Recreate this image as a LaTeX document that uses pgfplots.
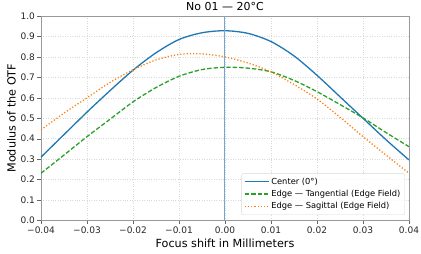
\documentclass[border=0pt]{standalone}
\usepackage{fontspec}
\setmainfont{DejaVu Sans}
\usepackage{pgfplots}
\pgfplotsset{compat=1.18}
\definecolor{c0}{HTML}{1F77B4}
\definecolor{c1}{HTML}{FF7F0E}
\definecolor{c2}{HTML}{2CA02C}
\definecolor{vline}{HTML}{6FA8D6}
\pgfplotsset{legend image code/.code={\draw[#1] (0pt,0pt) -- (24pt,0pt);}}
\begin{document}
\begin{tikzpicture}[x=1pt,y=1pt]
\path[use as bounding box] (0,0) rectangle (421,254);
\begin{axis}[
  at={(41pt,33.5pt)}, anchor=south west,
  scale only axis, width=368pt, height=204.5pt,
  xmin=-0.04, xmax=0.04, ymin=0, ymax=1,
  xtick={-0.04,-0.03,-0.02,-0.01,0,0.01,0.02,0.03,0.04},
  xticklabels={−0.04,−0.03,−0.02,−0.01,0.00,0.01,0.02,0.03,0.04},
  ytick={0,0.1,...,1.0},
  /pgf/number format/assume math mode=true,
  yticklabel style={/pgf/number format/fixed,/pgf/number format/fixed zerofill,/pgf/number format/precision=1, xshift=1pt},
  xticklabel style={yshift=1pt},
  scaled x ticks=false,
  tick label style={font=\fontsize{9}{10}\selectfont, text=black!85},
  xlabel={Focus shift in Millimeters},
  ylabel={Modulus of the OTF},
  label style={font=\fontsize{11.2}{13}\selectfont},
  xlabel style={yshift=1pt},
  ylabel style={yshift=-2pt},
  title={No 01 — 20°C},
  title style={font=\fontsize{11}{13}\selectfont, yshift=-4pt},
  grid=major,
  major grid style={dotted, gray!30},
  axis line style={gray!80},
  tick style={gray!80!black},
  tick align=outside, major tick length=3.5pt,
  xtick pos=bottom, ytick pos=left,
  legend style={at={(0.989,0.027)}, anchor=south east, font=\fontsize{8.3}{10}\selectfont,
    draw=gray!30, rounded corners=2pt, fill=white, fill opacity=0.8, text opacity=1,
    row sep=0.5pt, inner sep=2.5pt},
  legend cell align=left,
]
\addplot[draw=c0, line width=1.3pt, smooth] coordinates {
(-0.04,0.31) (-0.035,0.42) (-0.03,0.53) (-0.025,0.635) (-0.02,0.735) (-0.015,0.82)
(-0.01,0.885) (-0.005,0.918) (0,0.928) (0.005,0.915) (0.01,0.875) (0.015,0.805)
(0.02,0.71) (0.025,0.605) (0.03,0.50) (0.035,0.395) (0.04,0.296)};
\addlegendentry{Center (0°)}
\addplot[draw=c2, line width=1.3pt, dash pattern=on 4.4pt off 2pt, smooth] coordinates {
(-0.04,0.231) (-0.035,0.32) (-0.03,0.41) (-0.025,0.495) (-0.02,0.58) (-0.015,0.65)
(-0.01,0.705) (-0.005,0.738) (0,0.749) (0.005,0.745) (0.01,0.727) (0.015,0.685)
(0.02,0.63) (0.025,0.567) (0.03,0.502) (0.035,0.43) (0.04,0.361)};
\addlegendentry{Edge — Tangential (Edge Field)}
\addplot[draw=c1, line width=1.3pt, dash pattern=on 1.2pt off 2pt, smooth] coordinates {
(-0.04,0.443) (-0.035,0.525) (-0.03,0.60) (-0.025,0.675) (-0.02,0.737) (-0.015,0.785)
(-0.01,0.812) (-0.005,0.815) (0,0.80) (0.005,0.77) (0.01,0.727) (0.015,0.665)
(0.02,0.594) (0.025,0.505) (0.03,0.41) (0.035,0.32) (0.04,0.231)};
\addlegendentry{Edge — Sagittal (Edge Field)}
\addplot[draw=vline, line width=1pt, forget plot] coordinates {(0,0) (0,1)};
\end{axis}
\end{tikzpicture}
\end{document}
